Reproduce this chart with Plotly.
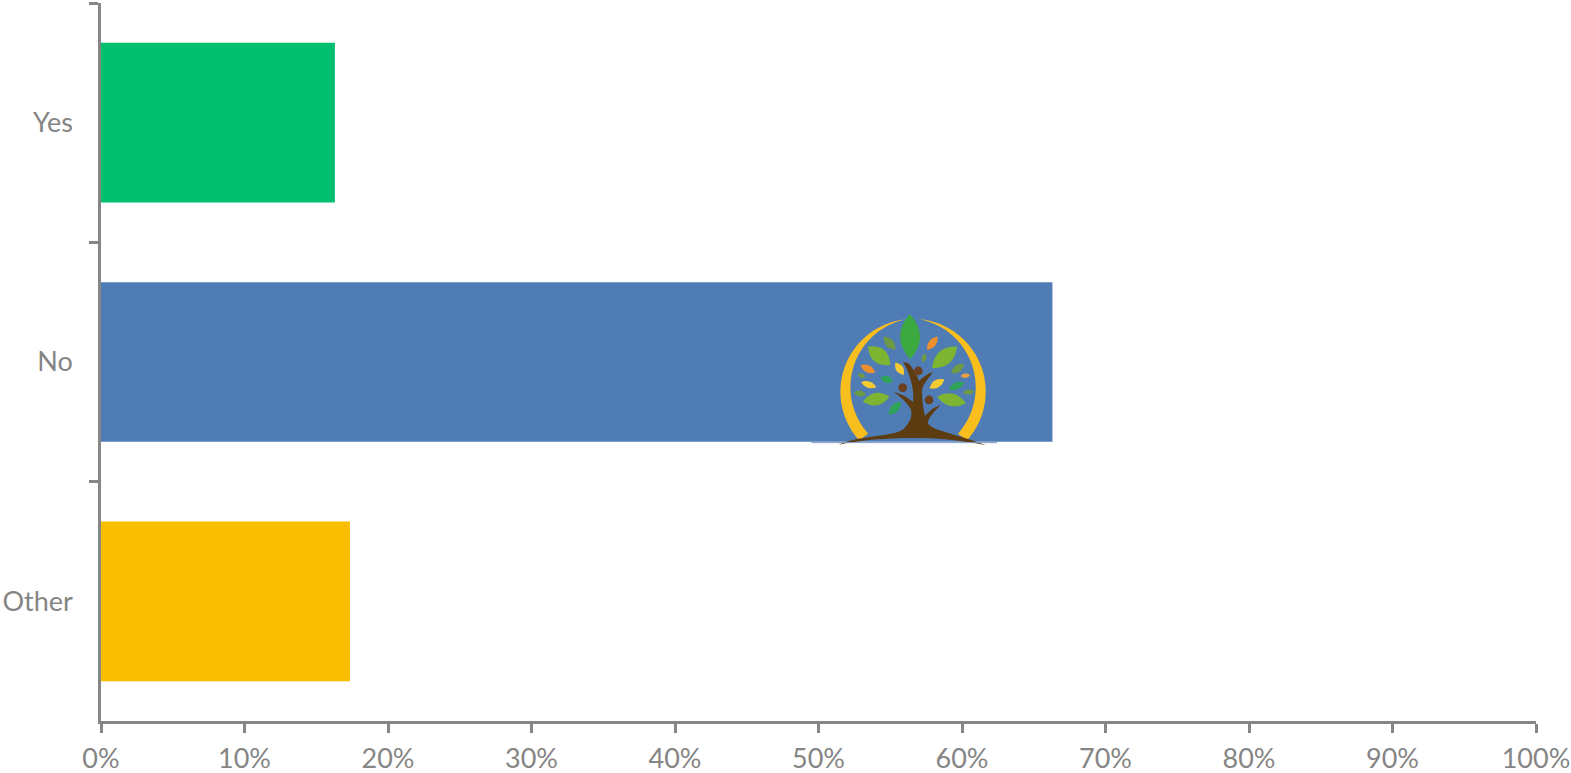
import math
import plotly.graph_objects as go

categories = ["Yes", "No", "Other"]
values = [16.3, 66.3, 17.35]
bar_colors = ["#00BF6F", "#507CB6", "#F9BE00"]
x_ticks = [0, 10, 20, 30, 40, 50, 60, 70, 80, 90, 100]
x_tick_labels = ["0%", "10%", "20%", "30%", "40%", "50%", "60%", "70%", "80%", "90%", "100%"]

W, H = 1571, 773
L, R, T, B = 100.5, 1535.7, 3.1, 721.0
AXIS = "#868686"
TEXT = "#858585"


# ---- decorative logo, drawn over the blue bar (position given in logo-local px) ----
def px(zx, zy):
    x = 800 + zx / 3
    y = 300 + zy / 3
    return (x - L) / (R - L), (B - y) / (B - T)


def pt(zx, zy):
    a, b = px(zx, zy)
    return f"{a:.5f},{b:.5f}"


def path(cmds):
    out = []
    for c in cmds:
        out.append(c[0] + " ".join(pt(c[i], c[i + 1]) for i in range(1, len(c), 2)))
    return " ".join(out) + " Z"


def leaf(x0, y0, x1, y1, w, color):
    dx, dy = x1 - x0, y1 - y0
    n = math.hypot(dx, dy)
    ox, oy = -dy / n * w * 1.0, dx / n * w * 1.0
    mx, my = x0 + dx * 0.5, y0 + dy * 0.5
    d = path([("M", x0, y0), ("Q", mx + ox, my + oy, x1, y1), ("Q", mx - ox, my - oy, x0, y0)])
    return dict(type="path", path=d, xref="paper", yref="paper", fillcolor=color, line=dict(width=0), layer="above")


def blob(cmds, color):
    return dict(type="path", path=path(cmds), xref="paper", yref="paper", fillcolor=color, line=dict(width=0), layer="above")


def dot(cx, cy, r, color):
    x0, y0 = px(cx - r, cy + r)
    x1, y1 = px(cx + r, cy - r)
    return dict(type="circle", x0=x0, y0=y0, x1=x1, y1=y1, xref="paper", yref="paper", fillcolor=color, line=dict(width=0), layer="above")


def ring(c_out, r_out, c_in, r_in, a0, a1, color):
    steps = 40
    pts = []
    for i in range(steps + 1):
        a = math.radians(a0 + (a1 - a0) * i / steps)
        pts.append((c_out[0] + r_out * math.cos(a), c_out[1] + r_out * math.sin(a)))
    for i in range(steps, -1, -1):
        a = math.radians(a0 + (a1 - a0) * i / steps)
        pts.append((c_in[0] + r_in * math.cos(a), c_in[1] + r_in * math.sin(a)))
    cmds = [("M", pts[0][0], pts[0][1])] + [("L", p[0], p[1]) for p in pts[1:]]
    return blob(cmds, color)


GOLD = "#F7BE1E"
BROWN = "#5E3C12"
LIME = "#7DB533"
OLIVE = "#6F9A45"
GREEN = "#3BA840"
TEAL = "#2FA35A"
ORANGE = "#EE8F2E"
YELL = "#F6CB32"

logo = [
    ring((338, 275), 218, (358, 262), 208, 138, 262, GOLD),
    ring((338, 275), 218, (318, 262), 208, 42, -84, GOLD),
    leaf(330, 178, 328, 42, 60, GREEN),
    leaf(285, 150, 250, 110, 25, OLIVE),
    leaf(270, 195, 203, 140, 45, LIME),
    leaf(380, 150, 412, 110, 22, ORANGE),
    leaf(367, 188, 375, 160, 14, OLIVE),
    leaf(395, 205, 470, 140, 45, LIME),
    leaf(310, 225, 285, 188, 22, YELL),
    leaf(225, 218, 180, 195, 22, ORANGE),
    leaf(195, 232, 172, 222, 14, OLIVE),
    leaf(228, 262, 182, 246, 20, YELL),
    leaf(278, 245, 240, 232, 22, TEAL),
    leaf(197, 283, 160, 278, 18, OLIVE),
    leaf(268, 290, 187, 305, 38, LIME),
    leaf(302, 305, 265, 345, 24, TEAL),
    leaf(452, 220, 492, 192, 22, OLIVE),
    leaf(480, 228, 510, 226, 14, "#E8A040"),
    leaf(387, 265, 432, 238, 24, YELL),
    leaf(445, 268, 492, 248, 22, TEAL),
    leaf(487, 278, 522, 275, 16, OLIVE),
    leaf(410, 290, 497, 310, 38, LIME),
    blob([("M", 115, 434), ("C", 180, 404, 285, 412, 312, 385), ("C", 330, 365, 338, 345, 330, 325),
          ("C", 318, 305, 300, 290, 280, 276), ("C", 305, 282, 325, 295, 338, 306),
          ("C", 342, 275, 332, 225, 308, 186), ("L", 324, 190), ("C", 338, 205, 350, 225, 356, 243),
          ("C", 366, 232, 380, 222, 397, 216), ("C", 387, 234, 368, 250, 365, 270),
          ("C", 365, 300, 368, 325, 374, 348), ("C", 387, 332, 405, 320, 420, 315),
          ("C", 407, 332, 388, 345, 382, 368), ("C", 390, 392, 480, 404, 557, 436),
          ("C", 470, 418, 410, 414, 332, 414), ("C", 260, 414, 180, 420, 115, 434)], BROWN),
    dot(354, 213, 13, "#6B3F1C"),
    dot(307, 263, 13, "#6B3F1C"),
    dot(386, 300, 13, "#6B3F1C"),
]
a0 = px(33, 428)
a1 = px(590, 428)
logo.append(dict(type="line", xref="paper", yref="paper", x0=a0[0], y0=a0[1], x1=a1[0], y1=a1[1],
                 line=dict(color="#7F9CC4", width=1), layer="above"))

fig = go.Figure(
    go.Bar(
        y=categories,
        x=values,
        orientation="h",
        width=0.667,
        marker=dict(color=bar_colors, line=dict(width=0)),
        hoverinfo="skip",
    )
)

fig.update_layout(
    width=W,
    height=H,
    margin=dict(l=L, r=W - R, t=T, b=H - B, pad=0, autoexpand=False),
    paper_bgcolor="white",
    plot_bgcolor="white",
    showlegend=False,
    font=dict(family="Lato, Carlito, sans-serif", size=27, color=TEXT),
    shapes=logo,
    xaxis=dict(
        automargin=False,
        range=[0, 100],
        tickmode="array",
        tickvals=x_ticks,
        ticktext=x_tick_labels,
        showgrid=False,
        zeroline=False,
        showline=True,
        linecolor=AXIS,
        linewidth=2.5,
        ticks="outside",
        ticklen=9,
        tickwidth=2.5,
        tickcolor=AXIS,
        ticklabelstandoff=3,
        tickfont=dict(size=27, color=TEXT),
    ),
    yaxis=dict(
        automargin=False,
        type="category",
        categoryorder="array",
        categoryarray=categories,
        autorange=False,
        range=[2.5, -0.5],
        tickson="boundaries",
        showgrid=False,
        zeroline=False,
        showline=True,
        linecolor=AXIS,
        linewidth=2.5,
        ticks="outside",
        ticklen=9,
        tickwidth=2.5,
        tickcolor=AXIS,
        ticklabelstandoff=20,
        tickfont=dict(size=27, color=TEXT),
    ),
)

fig.write_html(
    "out.html",
    config={"displayModeBar": False},
    post_script="document.body.style.margin='0';document.documentElement.style.overflow='hidden';",
)
